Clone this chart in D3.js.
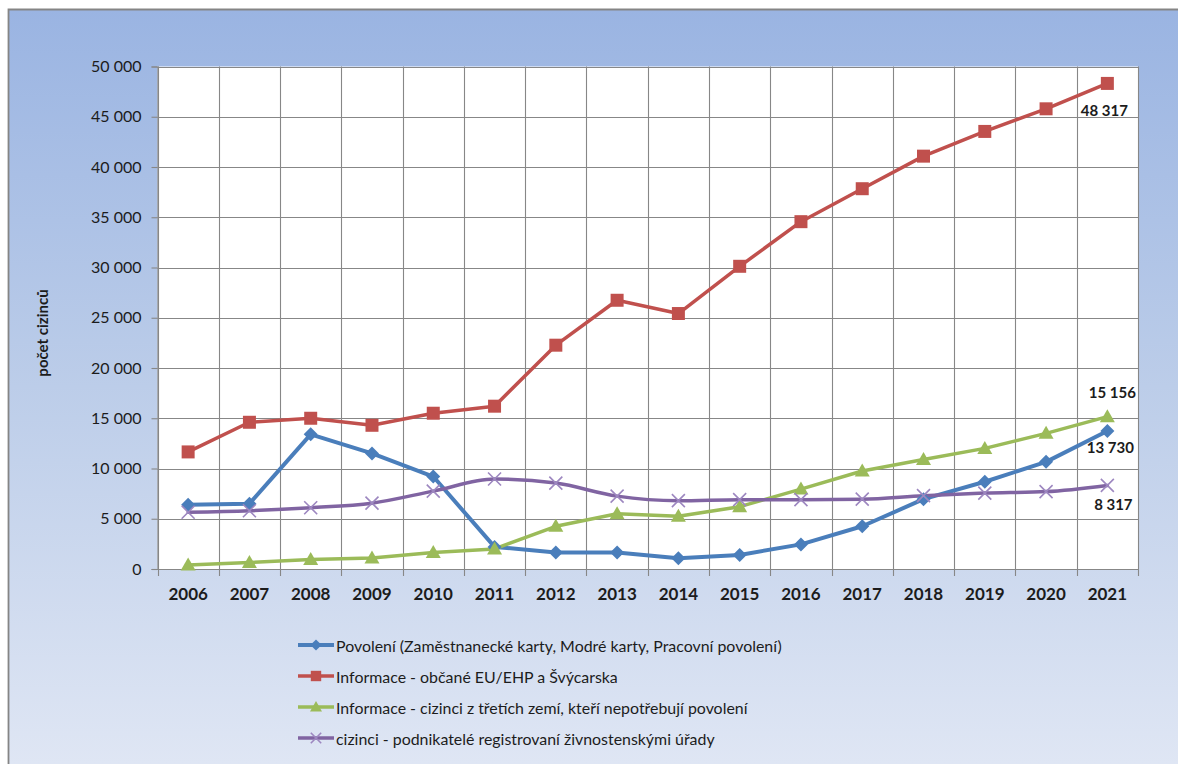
<!DOCTYPE html>
<html>
<head>
<meta charset="utf-8">
<script src="https://cdn.jsdelivr.net/npm/d3@7"></script>
<style>
  html, body { margin: 0; padding: 0; background: #ffffff; overflow: hidden; }
  svg { display: block; }
  svg text { font-family: Lato, "Open Sans", sans-serif; fill: #1c1c1c; }
</style>
</head>
<body>
<svg id="chart" width="1178" height="764"></svg>
<script>
// Roky
const years = [2006, 2007, 2008, 2009, 2010, 2011, 2012, 2013, 2014, 2015, 2016, 2017, 2018, 2019, 2020, 2021];

// Počty cizinců podle kategorie
const povoleni    = [6400, 6500, 13400, 11500, 9200, 2200, 1650, 1650, 1080, 1400, 2450, 4250, 6950, 8680, 10660, 13730];
const obcaneEU    = [11650, 14600, 15000, 14300, 15500, 16200, 22270, 26740, 25420, 30120, 34560, 37840, 41080, 43540, 45790, 48317];
const tretiZeme   = [400, 650, 950, 1100, 1650, 2000, 4250, 5500, 5250, 6200, 7950, 9750, 10900, 12000, 13500, 15156];
const podnikatele = [5650, 5800, 6100, 6550, 7750, 8950, 8550, 7250, 6800, 6900, 6900, 6950, 7300, 7550, 7700, 8317];

const seriesNames = [
  "Povolení (Zaměstnanecké karty, Modré karty, Pracovní povolení)",
  "Informace - občané EU/EHP a Švýcarska",
  "Informace - cizinci z třetích zemí, kteří nepotřebují povolení",
  "cizinci - podnikatelé registrovaní živnostenskými úřady"
];

const yTicks = [0, 5000, 10000, 15000, 20000, 25000, 30000, 35000, 40000, 45000, 50000];
const yTitle = "počet cizinců";

const series = [
  { name: seriesNames[0], values: povoleni,    color: "#4a7ebb", width: 4,   marker: "diamond",  curve: d3.curveLinear,    label: { dx: 3,  dy: 16 } },
  { name: seriesNames[1], values: obcaneEU,    color: "#c0504d", width: 3.5, marker: "square",   curve: d3.curveLinear,    label: { dx: -3, dy: 27 } },
  { name: seriesNames[2], values: tretiZeme,   color: "#9bbb59", width: 3.5, marker: "triangle", curve: d3.curveLinear,    label: { dx: 5,  dy: -25 } },
  { name: seriesNames[3], values: podnikatele, color: "#8064a2", width: 3.5, marker: "cross",    curve: d3.curveMonotoneX, label: { dx: 6,  dy: 19 } }
];

const W = 1178, H = 764;
const svg = d3.select("#chart");
const fmt = v => d3.format(",")(v).replace(/,/g, "\u00a0");

// Pozadí grafu s přechodem
const defs = svg.append("defs");
const grad = defs.append("linearGradient")
  .attr("id", "bg").attr("gradientUnits", "userSpaceOnUse")
  .attr("x1", 0).attr("y1", 9).attr("x2", 0).attr("y2", H);
grad.append("stop").attr("offset", "0").attr("stop-color", "#9ab4e2");
grad.append("stop").attr("offset", "0.5").attr("stop-color", "#bccde9");
grad.append("stop").attr("offset", "1").attr("stop-color", "#dfe6f4");

svg.append("rect")
  .attr("x", 9).attr("y", 10).attr("width", W - 9).attr("height", H - 10)
  .attr("fill", "url(#bg)");
// Rámeček grafu (levý a horní okraj)
svg.append("path")
  .attr("d", `M8.5,${H}V9.5H${W}`)
  .attr("fill", "none").attr("stroke", "#858585").attr("stroke-width", 1.8);

// Oblast vykreslení
const plot = { left: 157.5, right: 1138, top: 66.5, bottom: 569 };

const x = d3.scaleBand().domain(years).range([plot.left, plot.right]).padding(0);
const cx = yr => x(yr) + x.bandwidth() / 2;
const y = d3.scaleLinear().domain([0, 50000]).range([plot.bottom, plot.top]);

svg.append("rect")
  .attr("x", plot.left).attr("y", plot.top)
  .attr("width", plot.right - plot.left).attr("height", plot.bottom - plot.top)
  .attr("fill", "#ffffff");

// Mřížka
const grid = svg.append("g").attr("stroke", "#878787").attr("stroke-width", 1.1);
grid.selectAll("line.h").data(yTicks).join("line")
  .attr("x1", plot.left).attr("x2", plot.right)
  .attr("y1", d => Math.round(y(d)) + 0.5).attr("y2", d => Math.round(y(d)) + 0.5);
const xEdges = years.map(d => x(d)).concat([plot.right]);
grid.selectAll("line.v").data(xEdges).join("line")
  .attr("x1", d => Math.round(d) + 0.5).attr("x2", d => Math.round(d) + 0.5)
  .attr("y1", plot.top).attr("y2", plot.bottom);

// Osa Y
const yAxis = svg.append("g")
  .attr("transform", `translate(${plot.left},0)`)
  .call(d3.axisLeft(y).tickValues(yTicks).tickSize(6).tickPadding(10).tickFormat(fmt));
yAxis.select(".domain").attr("stroke", "#878787").attr("stroke-width", 1.2);
yAxis.selectAll(".tick line").attr("stroke", "#878787").attr("stroke-width", 1.1);
yAxis.selectAll("text").attr("font-size", 16).attr("fill", "#222");

// Osa X
const xAxis = svg.append("g")
  .attr("transform", `translate(0,${plot.bottom})`)
  .call(d3.axisBottom(x).tickValues([]).tickSizeOuter(0));
xAxis.select(".domain").attr("stroke", "#878787").attr("stroke-width", 1.2);
xAxis.selectAll(".edge").data(xEdges).join("line").attr("class", "edge")
  .attr("x1", d => Math.round(d) + 0.5).attr("x2", d => Math.round(d) + 0.5)
  .attr("y1", 0).attr("y2", 7).attr("stroke", "#878787").attr("stroke-width", 1.1);
xAxis.selectAll(".yr").data(years).join("text").attr("class", "yr")
  .attr("x", d => cx(d)).attr("y", 24)
  .attr("text-anchor", "middle").attr("dominant-baseline", "central")
  .attr("font-weight", "bold").attr("font-size", 17).attr("fill", "#1a1a1a")
  .text(d => d);

// Popis osy Y
svg.append("text")
  .attr("transform", "translate(42,333) rotate(-90)")
  .attr("text-anchor", "middle").attr("dominant-baseline", "central")
  .attr("font-weight", "bold").attr("font-size", 15).attr("fill", "#111")
  .text(yTitle);

// Značky
function markerPath(type, s) {
  if (type === "diamond") return `M0,${-7 * s}L${7 * s},0L0,${7 * s}L${-7 * s},0Z`;
  if (type === "square") return `M${-6.5 * s},${-6.5 * s}h${13 * s}v${13 * s}h${-13 * s}Z`;
  if (type === "triangle") return `M0,${-7.5 * s}L${7.5 * s},${5.5 * s}L${-7.5 * s},${5.5 * s}Z`;
  return `M${-6.5 * s},${-6.5 * s}L${6.5 * s},${6.5 * s}M${6.5 * s},${-6.5 * s}L${-6.5 * s},${6.5 * s}`;
}
function drawMarker(g, s, type, color) {
  if (type === "cross") {
    g.append("path").attr("d", markerPath(type, s))
      .attr("fill", "none").attr("stroke", "#9d87c0").attr("stroke-width", 1.6);
  } else {
    g.append("path").attr("d", markerPath(type, s)).attr("fill", color);
  }
}

series.forEach(s => {
  svg.append("path").datum(s.values)
    .attr("d", d3.line().x((d, i) => cx(years[i])).y(d => y(d)).curve(s.curve))
    .attr("fill", "none").attr("stroke", s.color).attr("stroke-width", s.width)
    .attr("stroke-linejoin", "round").attr("stroke-linecap", "round");
});
series.forEach(s => {
  s.values.forEach((v, i) => {
    const g = svg.append("g").attr("transform", `translate(${cx(years[i])},${y(v)})`);
    drawMarker(g, 1, s.marker, s.color);
  });
});

// Popisky posledních hodnot
series.forEach(s => {
  const last = s.values.length - 1;
  svg.append("text")
    .attr("x", cx(years[last]) + s.label.dx).attr("y", y(s.values[last]) + s.label.dy)
    .attr("text-anchor", "middle").attr("dominant-baseline", "central")
    .attr("font-weight", "bold").attr("font-size", 15).attr("fill", "#111")
    .text(fmt(s.values[last]));
});

// Legenda
const legendRows = [645, 676, 707, 738];
const legend = svg.append("g");
series.forEach((s, i) => {
  const g = legend.append("g").attr("transform", `translate(0,${legendRows[i]})`);
  g.append("line").attr("x1", 298).attr("x2", 334).attr("y1", 0).attr("y2", 0)
    .attr("stroke", s.color).attr("stroke-width", s.width);
  const m = g.append("g").attr("transform", "translate(316,0)");
  drawMarker(m, 0.8, s.marker, s.color);
  g.append("text").attr("class", "lg").attr("x", 336).attr("y", 0)
    .attr("dominant-baseline", "central").attr("font-size", 16).attr("fill", "#1a1a1a")
    .text(s.name);
});
// Velikost písma legendy podle šířky prvního řádku
const first = legend.select("text.lg").node();
const w = first.getComputedTextLength();
legend.selectAll("text.lg").attr("font-size", 16 * 446 / w);
</script>
</body>
</html>
